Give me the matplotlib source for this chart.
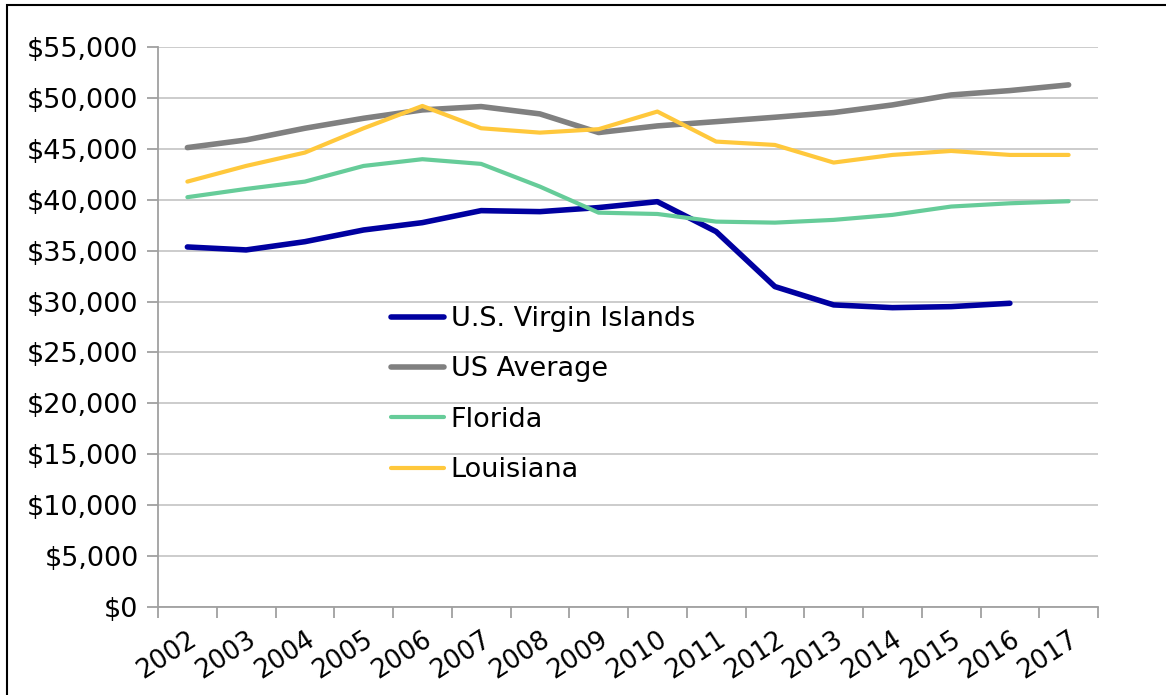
import matplotlib.pyplot as plt
import matplotlib.patches as patches
from matplotlib.ticker import FuncFormatter, FixedLocator
import numpy as np

years = [str(y) for y in range(2002, 2018)]

usvi = [35360, 35070, 35880, 37030, 37750, 38930, 38830, 39230,
        39810, 36870, 31470, 29670, 29400, 29500, 29830]
us_avg = [45120, 45870, 47020, 48000, 48820, 49150, 48430, 46600,
          47250, 47670, 48100, 48560, 49310, 50290, 50720, 51280]
florida = [40250, 41060, 41780, 43320, 43980, 43520, 41290, 38730,
           38600, 37850, 37750, 38020, 38510, 39330, 39650, 39850]
louisiana = [41780, 43320, 44630, 47020, 49210, 47020, 46590, 46930,
             48660, 45710, 45380, 43650, 44400, 44790, 44400, 44400]

series = [
    ('U.S. Virgin Islands', usvi, '#0000A0', 4.0),
    ('US Average', us_avg, '#808080', 4.0),
    ('Florida', florida, '#66CC99', 3.0),
    ('Louisiana', louisiana, '#FFC83C', 3.0),
]

plt.rcParams['font.family'] = ['DejaVu Sans']

fig = plt.figure(figsize=(11.66, 6.95), dpi=100)
ax = fig.add_axes([158 / 1166, 1 - 607 / 695, 940 / 1166, 560 / 695])

x = np.arange(len(years))
for name, vals, col, lw in series:
    ax.plot(x[:len(vals)], vals, color=col, lw=lw, label=name,
            solid_capstyle='round', solid_joinstyle='round')

ax.set_xlim(-0.5, len(years) - 0.5)
ax.set_ylim(0, 55000)
ax.set_yticks(np.arange(0, 55001, 5000))
ax.yaxis.set_major_formatter(FuncFormatter(lambda v, p: '${:,.0f}'.format(v)))
ax.grid(axis='y', color='#C8C8C8', lw=1.3)
ax.set_axisbelow(True)

# labels at category centers, tick marks between categories
ax.set_xticks(x, years)
ax.xaxis.set_minor_locator(FixedLocator(np.arange(-0.5, len(years), 1)))
ax.tick_params(axis='x', which='major', length=0, pad=14, labelsize=18.5,
               labelrotation=33)
for lab in ax.get_xticklabels():
    lab.set_ha('right')
    lab.set_va('top')
    lab.set_rotation_mode('anchor')
ax.tick_params(axis='x', which='minor', length=8, color='#A0A0A0', width=1.3)
ax.tick_params(axis='y', length=8, color='#A0A0A0', width=1.3,
               labelsize=19.5, pad=6)

for s in ['top', 'right']:
    ax.spines[s].set_visible(False)
for s in ['left', 'bottom']:
    ax.spines[s].set_color('#A0A0A0')
    ax.spines[s].set_linewidth(1.3)

leg = ax.legend(loc='upper left', bbox_to_anchor=(233 / 940, 1 - 259 / 560),
                frameon=False, fontsize=19.5, handlelength=1.95,
                handletextpad=0.25, labelspacing=0.9, borderaxespad=0,
                borderpad=0)

fig.patches.append(patches.Rectangle((7 / 1166, -0.1), 1.2, 1 - 5 / 695 + 0.1,
                                     transform=fig.transFigure, fill=False,
                                     edgecolor='black', lw=1.5))

fig.savefig('out.png', dpi=100)
